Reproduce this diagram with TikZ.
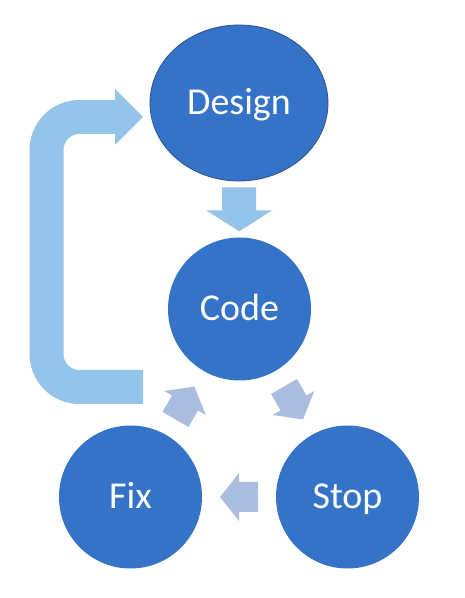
\documentclass[tikz,border=0pt]{standalone}
\usepackage{fontspec}
\setmainfont{Carlito}
\usetikzlibrary{calc,shapes.geometric}
\definecolor{mainblue}{HTML}{3473C7}
\definecolor{outlineblue}{HTML}{2F528F}
\definecolor{loopblue}{HTML}{94C4EA}
\definecolor{lavender}{HTML}{ABBCE1}
\tikzset{
  stage/.style={circle, fill=mainblue, text=white, minimum size=143pt, inner sep=0pt,
    font=\fontsize{38}{40}\selectfont, text height=24pt, text depth=0pt},
  downarrow/.pic={\fill[loopblue] (-22,17) -- (1,17) -- (1,33) -- (22,0) -- (1,-33) -- (1,-17) -- (-22,-17) -- cycle;},
  cyclearrow/.pic={\fill[lavender] (-19,15) -- (0,15) -- (0,24) -- (19,0) -- (0,-24) -- (0,-15) -- (-19,-15) -- cycle;},
  looparrow/.style={loopblue, line width=34pt, rounded corners=33pt}
}
\begin{document}
\begin{tikzpicture}[x=1pt,y=1pt]
\useasboundingbox (0,0) rectangle (465,598);
% stages
\node[stage, ellipse, minimum width=178pt, minimum height=156pt, draw=outlineblue, line width=0.8pt] (design) at (239,495) {Design};
\node[stage] (code) at (239.5,289) {Code};
\node[stage] (fix) at (130.5,101) {Fix};
\node[stage] (stop) at (347.5,101) {Stop};
% block arrows between stages
\path let \p1=($(code)-(design)$), \n1={atan2(\y1,\x1)} in
  ($(design.south)!0.5!(code.north)$) pic[rotate=\n1] {downarrow};
\path let \p1=($(stop)-(code)$), \n1={atan2(\y1,\x1)} in
  ($(code)!0.5!(stop)$) pic[rotate=\n1] {cyclearrow};
\path let \p1=($(fix)-(stop)$), \n1={atan2(\y1,\x1)} in
  ($(stop)!0.5!(fix)$) pic[rotate=\n1] {cyclearrow};
\path let \p1=($(code)-(fix)$), \n1={atan2(\y1,\x1)} in
  ($(fix)!0.5!(code)$) pic[rotate=\n1] {cyclearrow};
% loop-back arrow
\coordinate (loopstart) at (143,211);
\coordinate (looptip) at (143,481);
\draw[looparrow] (loopstart) -- (46.5,211) -- (46.5,481) -- ($(looptip)+(-27,0)$);
\fill[loopblue] ($(looptip)+(-28,28)$) -- (looptip) -- ($(looptip)+(-28,-28)$) -- cycle;
\end{tikzpicture}
\end{document}
